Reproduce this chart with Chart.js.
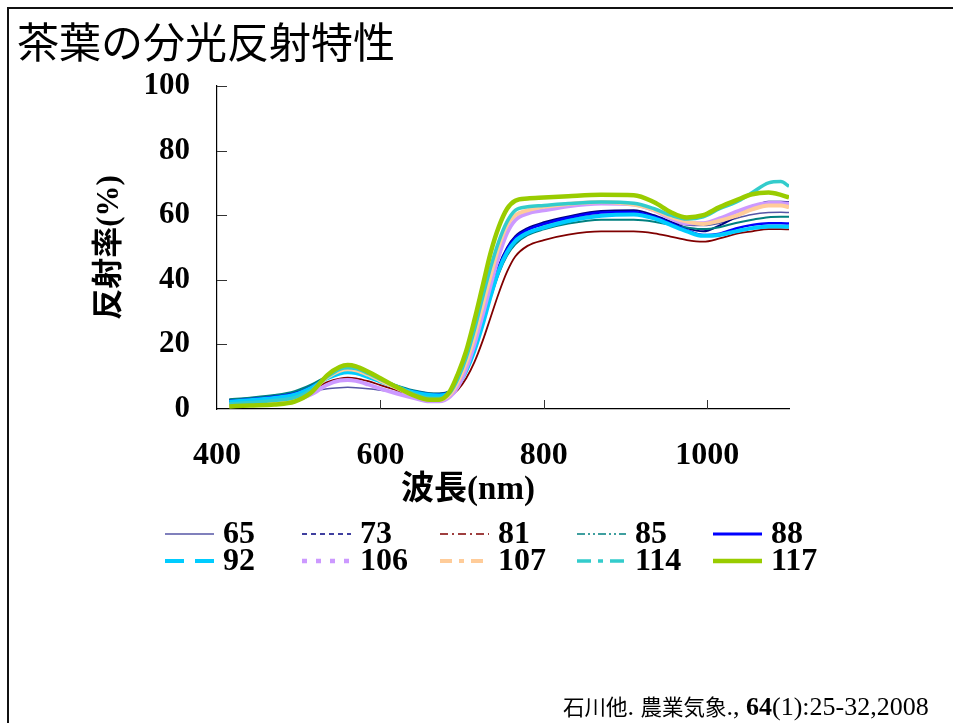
<!DOCTYPE html>
<html>
<head>
<meta charset="utf-8">
<script src="https://cdn.jsdelivr.net/npm/chart.js@4.4.1/dist/chart.umd.min.js"></script>
<style>
  html, body { margin: 0; padding: 0; background: #fff; width: 953px; height: 723px; overflow: hidden; }
  #frame { position: absolute; left: 7px; top: 7px; width: 1200px; height: 1200px;
           border-left: 2px solid #111; border-top: 2px solid #111; }
  #title { position: absolute; left: 17px; top: 18px; font-family: "Noto Sans CJK JP", sans-serif;
           font-size: 42px; line-height: 44px; font-weight: 400; color: #000; white-space: nowrap; }
  #xtitle { position: absolute; left: 387px; top: 469px; width: 162px; text-align: center;
            font-family: "Liberation Serif", "Noto Sans CJK JP", serif; font-weight: bold;
            font-size: 33px; line-height: 38px; color: #000; white-space: nowrap; }
  #cite { position: absolute; left: 563px; top: 691px; font-size: 26px; line-height: 30px; color: #000;
          white-space: nowrap; font-family: "Liberation Serif", serif; }
  #cite .jp { font-family: "Noto Sans CJK JP", sans-serif; font-size: 21.5px; }
  #cite b { font-family: "Liberation Serif", serif; font-weight: bold; }
  #wrap { position: absolute; left: 0; top: 0; width: 953px; height: 723px; }
</style>
</head>
<body>
<div id="wrap"><canvas id="c" width="953" height="723"></canvas></div>
<div id="frame"></div>
<div id="title">茶葉の分光反射特性</div>
<div id="xtitle">波長(nm)</div>
<div id="cite"><span class="jp">石川他</span>. <span class="jp">農業気象</span>., <b>64</b>(1):25-32,2008</div>
<script>
// ---- data ----
const wavelengths = [415, 440, 470, 495, 515, 535, 550, 560, 570, 585, 600, 620, 640, 660, 672, 685, 695, 705, 715, 725, 735, 745, 755, 765, 780, 800, 830, 870, 910, 935, 955, 975, 995, 1015, 1035, 1055, 1075, 1090, 1100];

const s65  = [2.4, 2.9, 3.6, 4.5, 5.5, 6.3, 6.6, 6.7, 6.6, 6.3, 5.8, 5.2, 4.6, 4.2, 4.1, 4.9, 7.2, 11.5, 17.5, 25.5, 34.5, 42.5, 48.5, 52.5, 55.3, 57.0, 58.8, 60.2, 60.4, 59.5, 58.0, 57.0, 56.8, 57.5, 59.0, 60.2, 60.8, 60.9, 60.8];
const s73  = [2.8, 3.3, 4.0, 5.0, 7.0, 9.8, 11.2, 11.6, 11.3, 10.2, 8.8, 7.0, 5.6, 4.8, 4.7, 5.5, 8.0, 12.5, 19.0, 27.5, 36.5, 44.5, 50.0, 53.5, 56.0, 57.8, 59.6, 61.3, 61.5, 60.0, 58.0, 56.0, 55.0, 56.8, 59.5, 62.5, 64.2, 64.2, 64.0];
const s81  = [1.6, 2.0, 2.7, 3.8, 5.8, 8.3, 9.4, 9.7, 9.5, 8.6, 7.4, 5.8, 4.3, 3.2, 3.1, 4.0, 6.0, 9.5, 14.5, 21.0, 28.5, 36.0, 42.5, 47.2, 50.5, 52.3, 54.0, 55.0, 55.0, 54.4, 53.4, 52.3, 51.8, 52.8, 54.2, 55.0, 55.7, 55.7, 55.6];
const s85  = [3.0, 3.5, 4.3, 5.5, 7.5, 10.2, 11.7, 12.0, 11.8, 10.7, 9.2, 7.3, 5.8, 4.9, 4.8, 5.5, 7.8, 12.0, 18.0, 26.0, 34.5, 42.0, 47.5, 51.0, 53.8, 55.6, 57.4, 58.6, 58.6, 58.0, 57.0, 56.2, 55.7, 56.3, 57.6, 58.6, 59.4, 59.5, 59.5];
const s88  = [2.5, 3.0, 3.8, 4.8, 6.8, 9.6, 11.2, 11.5, 11.2, 10.0, 8.6, 6.8, 5.4, 4.6, 4.5, 5.3, 7.8, 12.3, 18.8, 27.0, 36.0, 44.0, 49.5, 53.0, 55.5, 57.3, 59.2, 60.8, 61.0, 59.5, 57.5, 55.4, 53.9, 54.3, 55.9, 57.0, 57.5, 57.5, 57.4];
const s92  = [2.2, 2.7, 3.4, 4.4, 6.5, 9.5, 11.0, 11.4, 11.1, 9.9, 8.5, 6.7, 5.2, 4.3, 4.2, 5.0, 7.4, 11.8, 18.0, 26.0, 35.0, 43.0, 48.5, 52.0, 54.5, 56.2, 58.2, 59.8, 60.2, 59.0, 57.0, 55.0, 53.6, 53.9, 55.0, 56.0, 56.5, 56.5, 56.4];
const s106 = [1.0, 1.3, 1.8, 2.6, 4.5, 7.5, 8.8, 9.0, 8.7, 7.6, 6.3, 4.8, 3.5, 2.4, 2.4, 3.8, 7.0, 12.5, 20.0, 29.0, 38.5, 47.5, 54.5, 58.5, 60.5, 61.5, 62.8, 63.6, 63.3, 61.5, 59.0, 57.5, 57.5, 59.0, 61.0, 62.8, 63.8, 63.8, 63.5];
const s107 = [1.2, 1.5, 2.0, 3.0, 5.5, 9.8, 11.8, 12.3, 12.0, 10.6, 8.8, 6.5, 4.3, 2.9, 2.8, 4.5, 8.5, 14.5, 22.5, 32.0, 41.5, 50.5, 57.0, 60.0, 61.5, 62.6, 63.5, 64.1, 63.3, 61.6, 59.5, 58.0, 57.3, 58.3, 59.8, 61.8, 63.0, 63.0, 62.5];
const s114 = [1.6, 2.0, 2.6, 3.5, 5.8, 10.0, 12.3, 12.8, 12.5, 11.0, 9.2, 7.0, 4.8, 3.4, 3.3, 5.0, 9.5, 16.0, 24.5, 34.5, 44.0, 52.0, 58.0, 61.5, 62.6, 63.0, 63.6, 64.1, 63.7, 62.0, 60.0, 58.8, 59.5, 62.0, 64.0, 67.0, 70.0, 70.4, 69.0];
const s117 = [0.8, 1.1, 1.4, 2.3, 5.0, 10.5, 13.0, 13.6, 13.2, 11.5, 9.5, 6.8, 4.3, 2.9, 2.9, 5.5, 11.0, 18.0, 27.5, 38.0, 48.5, 56.5, 62.0, 64.5, 65.2, 65.5, 65.9, 66.3, 66.2, 64.0, 61.0, 59.3, 60.0, 62.5, 64.6, 66.5, 67.0, 66.3, 65.5];

const seriesLabels = ['65', '73', '81', '85', '88', '92', '106', '107', '114', '117'];
const seriesValues = [s65, s73, s81, s85, s88, s92, s106, s107, s114, s117];
const xTickValues = [400, 600, 800, 1000];
const yTickValues = [0, 20, 40, 60, 80, 100];

// ---- styles ----
const colors = ['#5656A6', '#000080', '#800000', '#008080', '#0000FF', '#00CCFF', '#CC99FF', '#FFCC99', '#33CCCC', '#99CC00'];
const plotWidths = [1.5, 2, 1.8, 2, 2.5, 4, 4, 4, 3.5, 4.5];
const legendWidths = [1.5, 1.5, 1.5, 1.5, 3, 4, 4.5, 4, 3.5, 4.5];
const legendDash = [[], [5, 4], [8, 4, 2, 4], [8, 3, 2, 3, 2, 3], [], [19, 11], [5, 9], [12, 7, 5, 7], [14, 7, 5, 7], []];

const serifFam = "'Liberation Serif', 'Times New Roman', 'Noto Sans CJK JP', serif";

const datasets = seriesLabels.map((lab, i) => ({
  label: lab,
  data: wavelengths.map((w, j) => ({ x: w, y: seriesValues[i][j] })),
  borderColor: colors[i],
  backgroundColor: colors[i],
  borderWidth: plotWidths[i],
  pointRadius: 0,
  fill: false,
  cubicInterpolationMode: 'monotone',
  order: seriesLabels.length - i,
  legendDash: legendDash[i],
  legendWidth: legendWidths[i]
}));

const inwardTicks = {
  id: 'inwardTicks',
  beforeDatasetsDraw(chart) {
    const { ctx, chartArea: a } = chart;
    const xs = chart.scales.x, ys = chart.scales.y;
    ctx.save();
    ctx.strokeStyle = '#333';
    ctx.lineWidth = 1;
    ctx.beginPath();
    xs.ticks.forEach(t => {
      const px = Math.round(xs.getPixelForValue(t.value)) + 0.5;
      if (px <= a.left + 1) return;
      ctx.moveTo(px, a.bottom);
      ctx.lineTo(px, a.bottom - 9);
    });
    ys.ticks.forEach(t => {
      const py = Math.round(ys.getPixelForValue(t.value)) + 0.5;
      if (py >= a.bottom - 1) return;
      ctx.moveTo(a.left, py);
      ctx.lineTo(a.left + 10, py);
    });
    ctx.stroke();
    ctx.restore();
  }
};

const gridLegend = {
  id: 'gridLegend',
  afterDraw(chart) {
    const { ctx } = chart;
    const colX = [165, 302, 440, 577, 713];
    const rowY = [534, 561];
    ctx.save();
    chart.data.datasets.forEach((ds, i) => {
      const cx = colX[i % 5];
      const cy = rowY[Math.floor(i / 5)];
      ctx.beginPath();
      ctx.setLineDash(ds.legendDash);
      ctx.lineWidth = ds.legendWidth;
      ctx.strokeStyle = ds.borderColor;
      ctx.lineCap = 'butt';
      ctx.moveTo(cx, cy);
      ctx.lineTo(cx + 49, cy);
      ctx.stroke();
      ctx.setLineDash([]);
      ctx.fillStyle = '#000';
      ctx.font = "bold 32px " + serifFam;
      ctx.textBaseline = 'middle';
      ctx.textAlign = 'left';
      ctx.fillText(ds.label, cx + 58, cy + 1);
    });
    ctx.restore();
  }
};

new Chart(document.getElementById('c'), {
  type: 'line',
  data: { datasets },
  options: {
    responsive: false,
    animation: false,
    events: [],
    layout: { padding: { top: 86, right: 164, bottom: 0, left: 0 } },
    plugins: { legend: { display: false }, tooltip: { enabled: false } },
    scales: {
      x: {
        type: 'linear', min: 400, max: 1100,
        afterBuildTicks: s => { s.ticks = xTickValues.map(v => ({ value: v })); },
        afterFit: s => { s.height = 314; },
        grid: { display: false, drawTicks: false },
        border: { display: true, color: '#000', width: 1.2 },
        ticks: { padding: 28, color: '#000', maxRotation: 0, autoSkip: false,
                 callback: v => String(v),
                 font: { family: serifFam, size: 32, weight: 'bold' } }
      },
      y: {
        type: 'linear', min: 0, max: 100,
        afterBuildTicks: s => { s.ticks = yTickValues.map(v => ({ value: v })); },
        afterFit: s => { s.width = 217; },
        grid: { display: false, drawTicks: false },
        border: { display: true, color: '#000', width: 1.2 },
        ticks: { padding: 27, color: '#000', autoSkip: false,
                 callback: v => String(v),
                 font: { family: serifFam, size: 31, weight: 'bold' } },
        title: { display: true, text: '反射率(%)', color: '#000', padding: { top: 91, bottom: 0 },
                 font: { family: serifFam, size: 31, weight: 'bold' } }
      }
    }
  },
  plugins: [inwardTicks, gridLegend]
});
</script>
</body>
</html>
